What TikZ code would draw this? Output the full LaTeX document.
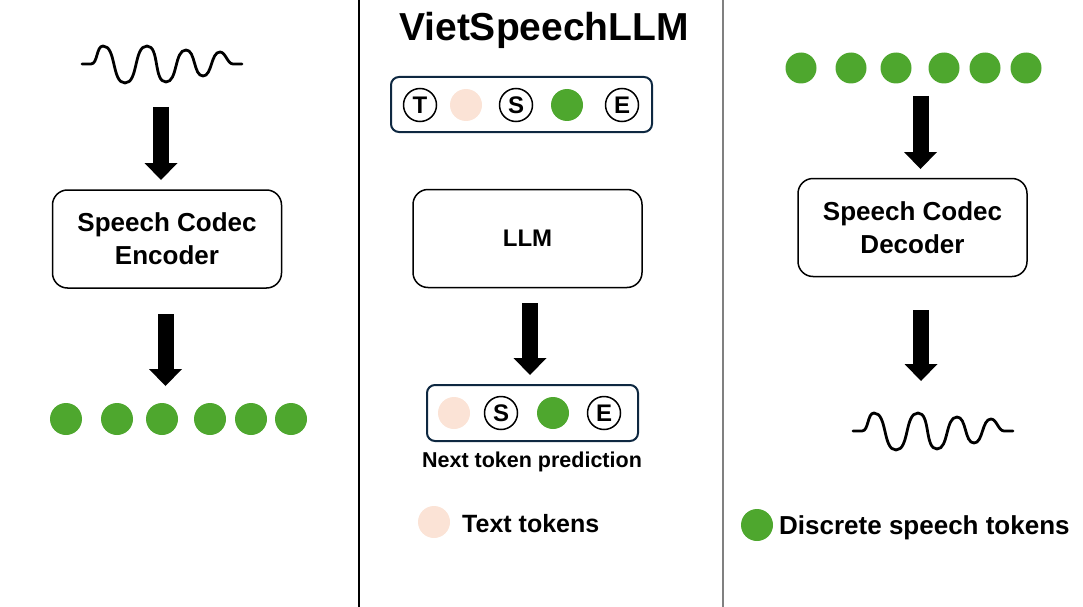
\documentclass[tikz,border=0pt]{standalone}
\usepackage{fontspec}
\setmainfont{Liberation Sans}
\usetikzlibrary{arrows.meta}
\definecolor{tokgreen}{RGB}{78,167,46}
\definecolor{tokpink}{RGB}{251,227,214}
\definecolor{boxnavy}{RGB}{14,40,65}
\begin{document}
\begin{tikzpicture}[
        x=1pt, y=-1pt,
        box/.style={draw, line width=1.5pt, rounded corners=15pt, minimum width=229pt, minimum height=98pt, align=center, font=\fontsize{26}{33}\selectfont\bfseries},
        tokbox/.style={draw=boxnavy, line width=2pt, rounded corners=8pt},
        speech/.style={circle, fill=tokgreen, minimum size=32pt, inner sep=0pt},
        textok/.style={circle, fill=tokpink, minimum size=32pt, inner sep=0pt},
        letter/.style={circle, draw, fill=white, line width=1.5pt, minimum size=33pt, inner sep=0pt, font=\fontsize{24}{24}\selectfont\bfseries},
        label/.style={inner sep=0pt, anchor=base west, font=\fontsize{25}{25}\selectfont\bfseries},
        bigarrow/.style={line width=16pt, -{Triangle[length=17pt, width=33pt, line width=0pt]}},
        wave/.style={line width=2.8pt, line cap=round, line join=round},
        wv/.style={out=0, in=180, looseness=0.8},
    ]
    \useasboundingbox (0,0) rectangle (1083,607);
    % panel dividers
    \draw[line width=1.2pt] (359,0) -- (359,607);
    \draw[line width=2.5pt, gray] (723,0) -- (723,607);
    % waveforms
    \foreach \wx/\wy in {0/0, 771/367}
        \draw[wave, shift={(\wx,\wy)}] (82,64) -- (91,64) to[wv] (103,46) to[wv] (125,83) to[wv] (147,46) to[wv] (166,82)
            to[wv] (186,50) to[wv] (203,76) to[wv] (220,52) to[wv] (233,64) -- (242,64);
    % left panel
    \node[box] (enc) at (167,239) {Speech Codec\\Encoder};
    \coordinate (a1s) at (161,107);
    \coordinate (a1e) at (161,180);
    \draw[bigarrow] (a1s) -- (a1e);
    \coordinate (a2s) at (165.5,314);
    \coordinate (a2e) at (165.5,386);
    \draw[bigarrow] (a2s) -- (a2e);
    \foreach \i/\px in {1/66, 2/117, 3/162, 4/210, 5/251, 6/291}
        \node[speech] (enc\i) at (\px,419) {};
    % middle panel
    \node[font=\fontsize{39}{39}\selectfont\bfseries, anchor=base] (title) at (544,41) {VietSpeechLLM};
    \node[tokbox, minimum width=261pt, minimum height=55pt] (inbox) at (521.5,104.5) {};
    \node[letter] (inT) at (420,105) {T};
    \node[textok] (inP) at (466,105) {};
    \node[letter] (inS) at (516,105) {S};
    \node[speech] (inG) at (567,105) {};
    \node[letter] (inE) at (622,105) {E};
    \node[box, font=\fontsize{24}{24}\selectfont\bfseries] (llm) at (527.5,238.5) {LLM};
    \coordinate (a3s) at (530,303);
    \coordinate (a3e) at (530,375);
    \draw[bigarrow] (a3s) -- (a3e);
    \node[tokbox, minimum width=211pt, minimum height=56pt] (outbox) at (532.5,413) {};
    \node[textok] (outP) at (454,413) {};
    \node[letter] (outS) at (501,413) {S};
    \node[speech] (outG) at (553,413) {};
    \node[letter] (outE) at (604,413) {E};
    \node[label, anchor=base, font=\fontsize{21.5}{21.5}\selectfont\bfseries] (pred) at (532,467) {Next token prediction};
    \node[textok] (legP) at (434,522) {};
    \node[label] (legPtext) at (462,532) {Text tokens};
    % right panel
    \foreach \i/\px in {1/801, 2/851, 3/896, 4/944, 5/985, 6/1026}
        \node[speech, minimum size=31pt] (dec\i) at (\px,68) {};
    \coordinate (a4s) at (920.5,96);
    \coordinate (a4e) at (920.5,169);
    \draw[bigarrow] (a4s) -- (a4e);
    \node[box] (dec) at (912.5,227.5) {Speech Codec\\Decoder};
    \coordinate (a5s) at (921,310);
    \coordinate (a5e) at (921,381);
    \draw[bigarrow] (a5s) -- (a5e);
    \node[speech] (legG) at (757,525) {};
    \node[label, font=\fontsize{26}{26}\selectfont\bfseries] (legGtext) at (779,534) {Discrete speech tokens};
\end{tikzpicture}
\end{document}
